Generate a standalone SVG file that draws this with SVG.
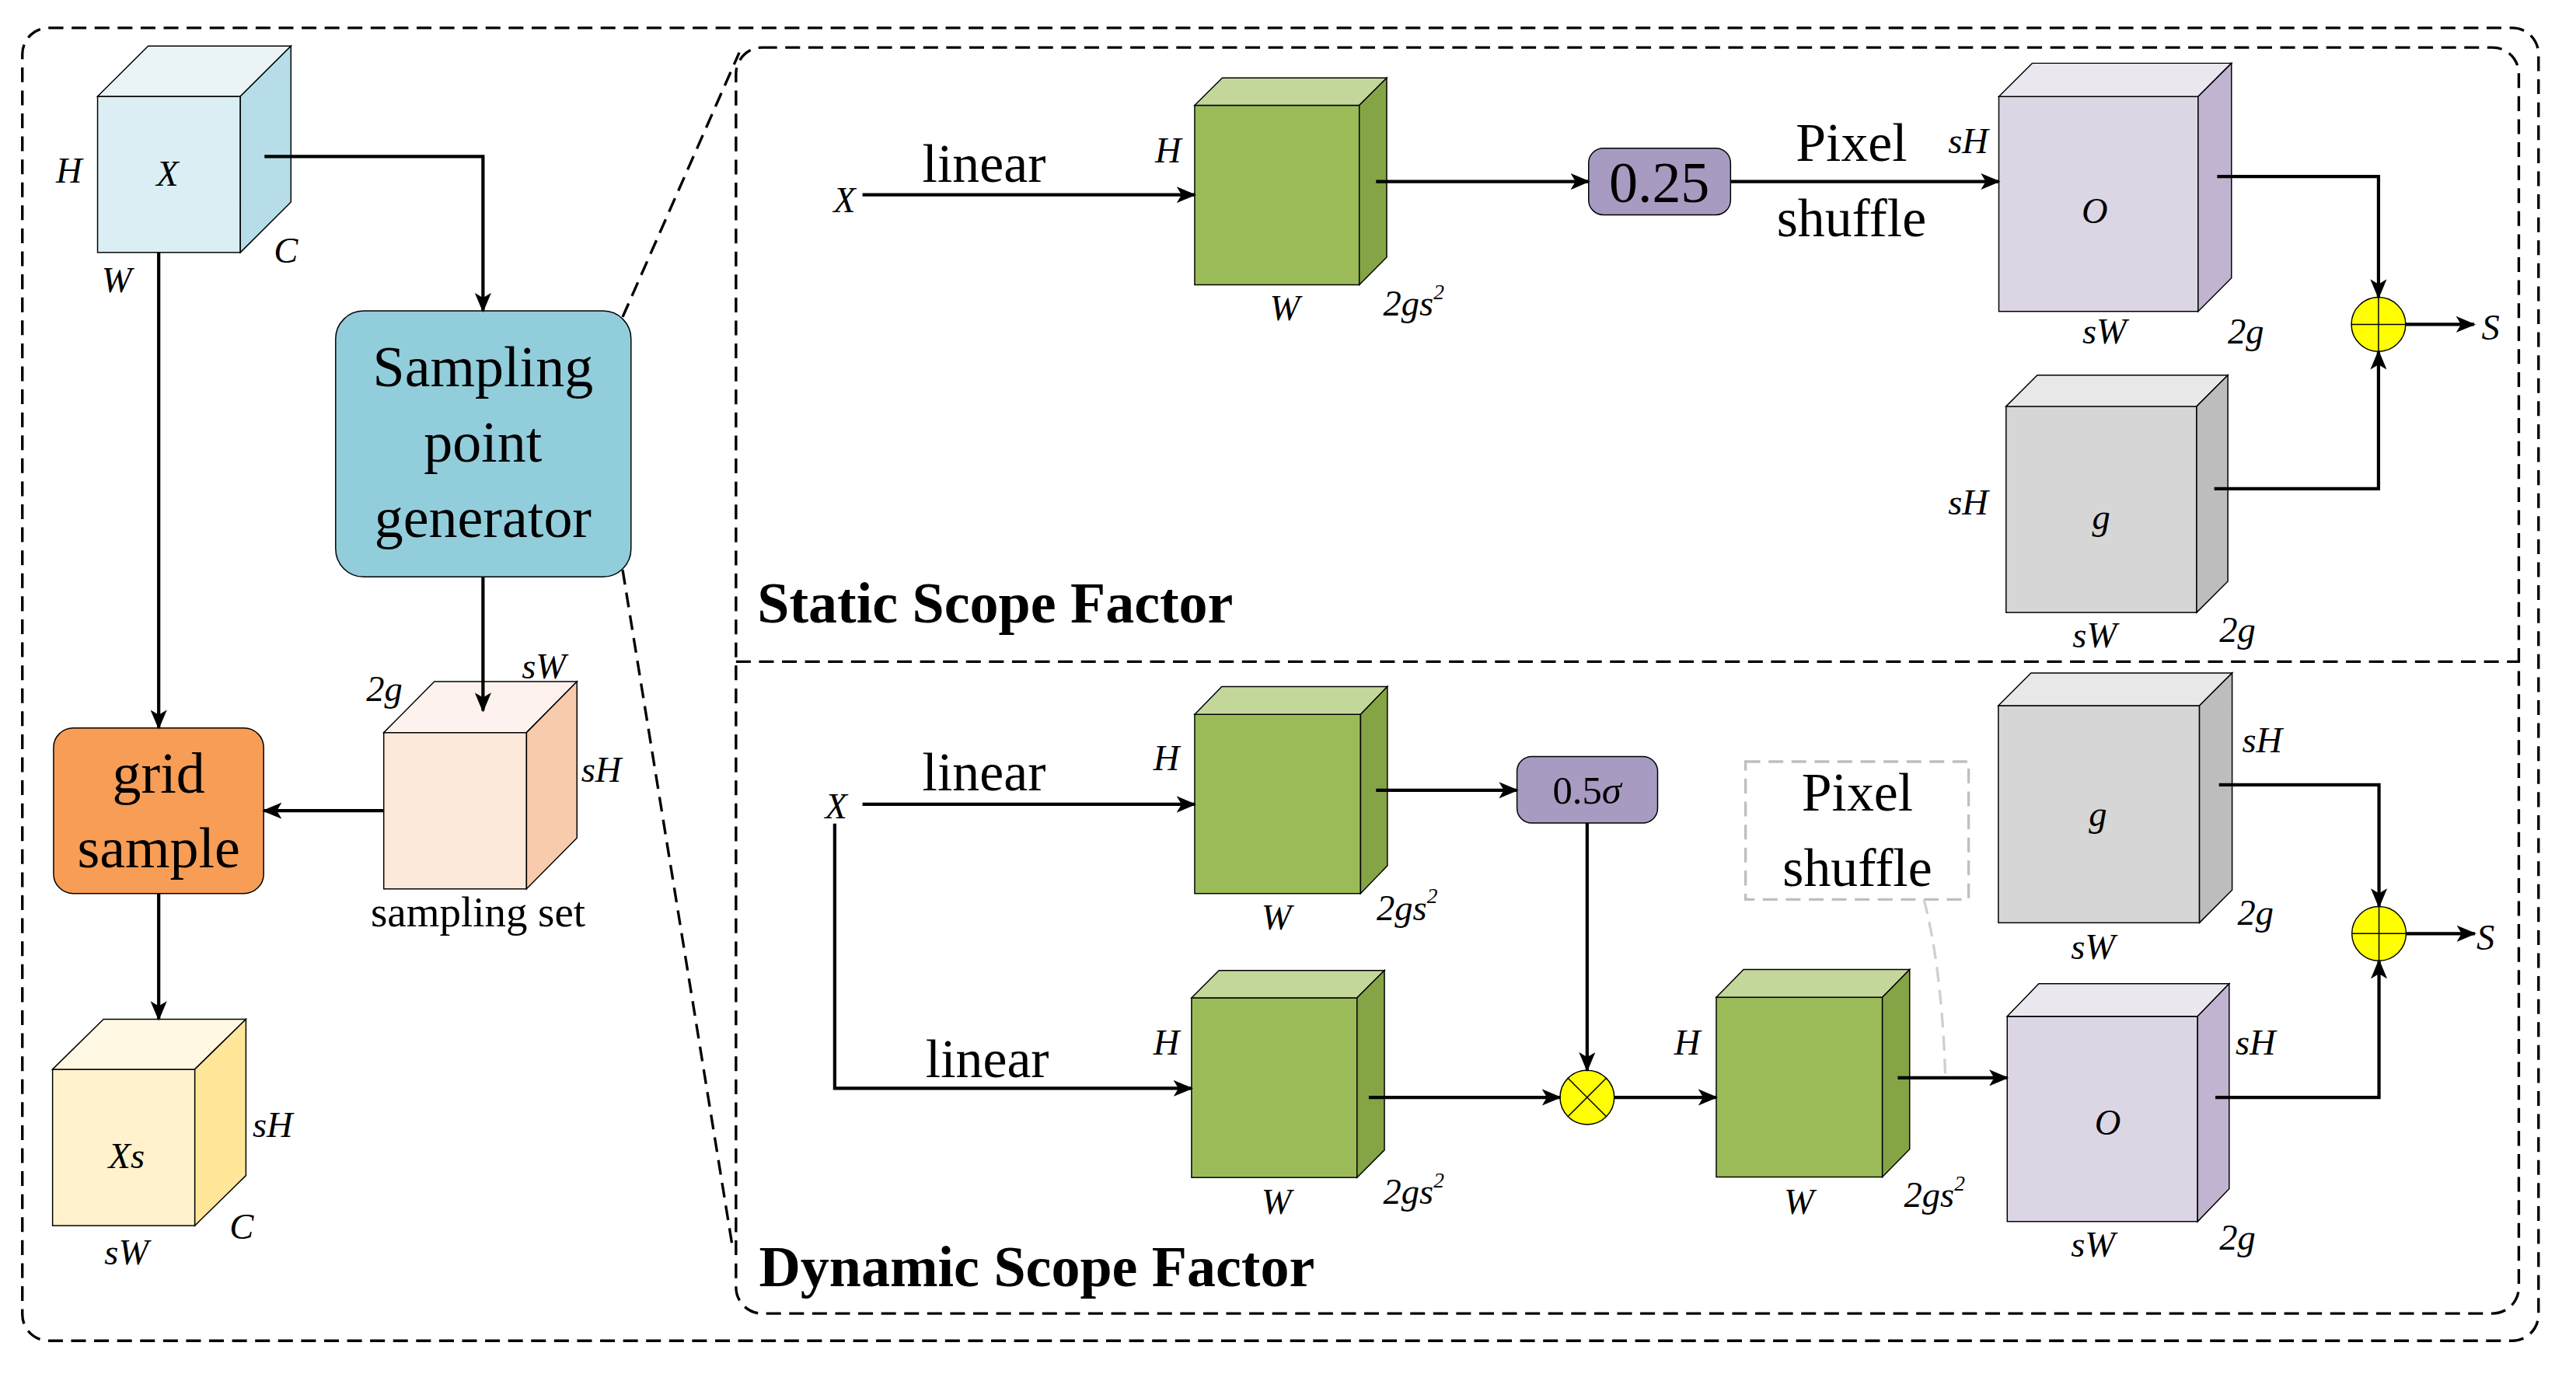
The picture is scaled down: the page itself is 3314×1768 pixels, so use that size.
<svg xmlns="http://www.w3.org/2000/svg" width="3314" height="1768" viewBox="0 0 3314 1768">
<defs>
<marker id="ah" markerWidth="12" markerHeight="10" refX="11" refY="5" orient="auto" markerUnits="userSpaceOnUse"><path d="M0,0 L12,5 L0,10 L3,5 Z" fill="#000"/></marker>
<style>
.t{font-family:"Liberation Serif","Times New Roman",serif;fill:#000}
.i{font-family:"Liberation Serif","Times New Roman",serif;font-style:italic;font-size:22px;fill:#000}
.big{font-size:35px;text-anchor:middle}
.bold{font-weight:bold;font-size:35px}
.c{stroke:#000;stroke-width:2;fill:none}
.ca{stroke:#000;stroke-width:2;fill:none;marker-end:url(#ah)}
.e{stroke:#000;stroke-width:0.7}
.dash{stroke:#000;stroke-width:1.6;stroke-dasharray:9,5;fill:none}
</style>
</defs>
<rect width="3314" height="1768" fill="#fff"/>
<g transform="scale(2.1135)">
<rect x="13.6" y="17" width="1531.6" height="799.3" rx="16" fill="#f2f2f2" class="dash"/>
<rect x="448" y="28.9" width="1085.2" height="770.8" rx="16" fill="#fff2cc" class="dash"/>
<line x1="448" y1="402.8" x2="1533.2" y2="402.8" class="dash"/>
<path d="M379,193 L450,32" class="dash"/>
<path d="M379,347 L446,760" class="dash"/>

<g id="cube-x">
<rect x="59.4" y="58.7" width="86.9" height="95" fill="#daeef3" class="e"/>
<polygon points="59.4,58.7 90.2,28 177.1,28 146.3,58.7" fill="#eaf4f7" class="e"/>
<polygon points="146.3,58.7 177.1,28 177.1,123 146.3,153.7" fill="#b7dde8" class="e"/>
<text class="i" x="102" y="113" text-anchor="middle">X</text>
<text class="i" x="42" y="111" text-anchor="middle">H</text>
<text class="i" x="174" y="160" text-anchor="middle">C</text>
<text class="i" x="71" y="178" text-anchor="middle">W</text>
</g>
<g id="sampling-point-generator">
<rect x="204.3" y="189.3" width="179.8" height="161.9" rx="17" fill="#92cddc" stroke="#000" stroke-width="0.7"/>
<text class="t big" x="294" y="235">Sampling</text>
<text class="t big" x="294" y="281">point</text>
<text class="t big" x="294" y="327">generator</text>
</g>
<g id="grid-sample">
<rect x="32.6" y="443.2" width="127.9" height="100.8" rx="12" fill="#f79d56" stroke="#000" stroke-width="0.7"/>
<text class="t big" x="96.6" y="482.5">grid</text>
<text class="t big" x="96.6" y="528">sample</text>
</g>
<g id="sampling-set">
<rect x="233.6" y="446" width="86.9" height="95.2" fill="#fde9d9" class="e"/>
<polygon points="233.6,446 264.4,415 351.2,415 320.5,446" fill="#fdf2ee" class="e"/>
<polygon points="320.5,446 351.2,415 351.2,510.2 320.5,541.2" fill="#f8cbad" class="e"/>
<text class="i" x="234" y="427" text-anchor="middle" font-style="normal">2<tspan font-style="italic">g</tspan></text>
<text class="i" x="331" y="413" text-anchor="middle">sW</text>
<text class="i" x="366" y="476" text-anchor="middle">sH</text>
<text class="t" x="291" y="564" font-size="26" text-anchor="middle">sampling set</text>
</g>
<g id="cube-xs">
<rect x="32" y="651" width="86.6" height="95.2" fill="#fff2cc" class="e"/>
<polygon points="32,651 63,620.5 149.7,620.5 118.6,651" fill="#fff8e2" class="e"/>
<polygon points="118.6,651 149.7,620.5 149.7,715.7 118.6,746.2" fill="#ffe699" class="e"/>
<text class="i" x="77" y="711" text-anchor="middle">Xs</text>
<text class="i" x="166" y="692" text-anchor="middle">sH</text>
<text class="i" x="147" y="754" text-anchor="middle">C</text>
<text class="i" x="77" y="770" text-anchor="middle">sW</text>
</g>

<!-- static -->
<g id="static-input">
<text class="i" x="514" y="129" text-anchor="middle">X</text>
<text class="t" x="599" y="110.5" font-size="33" text-anchor="middle">linear</text>
</g>
<g id="static-green">
<rect x="727.2" y="64.1" width="100.2" height="109.3" fill="#9bbb59" class="e"/>
<polygon points="727.2,64.1 744,47.4 844.1,47.4 827.4,64.1" fill="#c4d79b" class="e"/>
<polygon points="827.4,64.1 844.1,47.4 844.1,156.6 827.4,173.4" fill="#84a446" class="e"/>
<text class="i" x="711" y="99" text-anchor="middle">H</text>
<text class="i" x="782" y="195" text-anchor="middle">W</text>
<text class="i" x="842" y="192" font-style="normal">2<tspan font-style="italic">gs</tspan><tspan font-size="13" dy="-10">2</tspan></text>
</g>
<g id="static-scale">
<rect x="967" y="90.2" width="86.4" height="40.6" rx="9" fill="#a79bc2" stroke="#000" stroke-width="0.7"/>
<text class="t" x="1010" y="123" font-size="35" text-anchor="middle">0.25</text>
</g>
<g id="static-pixel-shuffle">
<text class="t" x="1127" y="98" font-size="33" text-anchor="middle">Pixel</text>
<text class="t" x="1127" y="144" font-size="33" text-anchor="middle">shuffle</text>
</g>
<g id="static-o">
<rect x="1216.7" y="58.8" width="121.3" height="130.8" fill="#dcd6e4" class="e"/>
<polygon points="1216.7,58.8 1237,38.5 1358.3,38.5 1338,58.8" fill="#eae7ef" class="e"/>
<polygon points="1338,58.8 1358.3,38.5 1358.3,169.3 1338,189.6" fill="#c0b4d0" class="e"/>
<text class="i" x="1275" y="136" text-anchor="middle">O</text>
<text class="i" x="1198" y="93" text-anchor="middle">sH</text>
<text class="i" x="1281" y="209" text-anchor="middle">sW</text>
<text class="i" x="1367" y="209" text-anchor="middle" font-style="normal">2<tspan font-style="italic">g</tspan></text>
</g>
<g id="static-g">
<rect x="1221.1" y="247.4" width="116" height="125.5" fill="#d6d6d6" class="e"/>
<polygon points="1221.1,247.4 1240.1,228.4 1356.1,228.4 1337.1,247.4" fill="#e8e8e8" class="e"/>
<polygon points="1337.1,247.4 1356.1,228.4 1356.1,353.9 1337.1,372.9" fill="#bdbdbd" class="e"/>
<text class="i" x="1279" y="322" text-anchor="middle">g</text>
<text class="i" x="1198" y="313" text-anchor="middle">sH</text>
<text class="i" x="1275" y="394" text-anchor="middle">sW</text>
<text class="i" x="1362" y="391" text-anchor="middle" font-style="normal">2<tspan font-style="italic">g</tspan></text>
</g>
<g id="static-add">
<circle cx="1447.8" cy="197.5" r="16.5" fill="#ffff00" stroke="#000" stroke-width="0.7"/>
<path d="M1431.3,197.5 H1464.3 M1447.8,181 V214" stroke="#000" stroke-width="0.7"/>
<text class="i" x="1516" y="207" text-anchor="middle">S</text>
</g>
<text class="t bold" x="461" y="379">Static Scope Factor</text>

<!-- dynamic -->
<g id="dynamic-input">
<text class="i" x="509" y="498" text-anchor="middle">X</text>
<text class="t" x="599" y="481" font-size="33" text-anchor="middle">linear</text>
<text class="t" x="601" y="655.7" font-size="33" text-anchor="middle">linear</text>
</g>
<g id="dyn-green1">
<rect x="727.2" y="434.9" width="101" height="109.1" fill="#9bbb59" class="e"/>
<polygon points="727.2,434.9 743.7,418 844.5,418 828.2,434.9" fill="#c4d79b" class="e"/>
<polygon points="828.2,434.9 844.5,418 844.5,527.1 828.2,544" fill="#84a446" class="e"/>
<text class="i" x="710" y="469" text-anchor="middle">H</text>
<text class="i" x="777" y="566" text-anchor="middle">W</text>
<text class="i" x="838" y="560" font-style="normal">2<tspan font-style="italic">gs</tspan><tspan font-size="13" dy="-10">2</tspan></text>
</g>
<g id="dyn-sigma">
<rect x="923.4" y="460.6" width="85.6" height="40.5" rx="9" fill="#a79bc2" stroke="#000" stroke-width="0.7"/>
<text class="t" x="966" y="489" font-size="24" text-anchor="middle">0.5<tspan font-style="italic">σ</tspan></text>
</g>
<g id="dyn-green2">
<rect x="725.3" y="607.5" width="100.7" height="109.4" fill="#9bbb59" class="e"/>
<polygon points="725.3,607.5 742,590.8 842.7,590.8 826,607.5" fill="#c4d79b" class="e"/>
<polygon points="826,607.5 842.7,590.8 842.7,700.2 826,716.9" fill="#84a446" class="e"/>
<text class="i" x="710" y="642" text-anchor="middle">H</text>
<text class="i" x="777" y="739" text-anchor="middle">W</text>
<text class="i" x="842" y="733" font-style="normal">2<tspan font-style="italic">gs</tspan><tspan font-size="13" dy="-10">2</tspan></text>
</g>
<g id="dyn-mul">
<circle cx="966.1" cy="668.1" r="16.5" fill="#ffff00" stroke="#000" stroke-width="0.7"/>
<path d="M954.4,656.4 L977.8,679.8 M977.8,656.4 L954.4,679.8" stroke="#000" stroke-width="0.7"/>
</g>
<g id="dyn-green3">
<rect x="1044.7" y="607.2" width="101.1" height="109.4" fill="#9bbb59" class="e"/>
<polygon points="1044.7,607.2 1061.3,590.3 1162.4,590.3 1145.8,607.2" fill="#c4d79b" class="e"/>
<polygon points="1145.8,607.2 1162.4,590.3 1162.4,699.7 1145.8,716.6" fill="#84a446" class="e"/>
<text class="i" x="1027" y="642" text-anchor="middle">H</text>
<text class="i" x="1095" y="739" text-anchor="middle">W</text>
<text class="i" x="1159" y="735" font-style="normal">2<tspan font-style="italic">gs</tspan><tspan font-size="13" dy="-10">2</tspan></text>
</g>
<g id="dyn-pixel-shuffle">
<rect x="1062.5" y="463.7" width="135.8" height="83.9" fill="none" stroke="#bfbfbf" stroke-width="1.6" stroke-dasharray="9,5"/>
<text class="t" x="1130.6" y="493.6" font-size="33" text-anchor="middle">Pixel</text>
<text class="t" x="1130.6" y="539.3" font-size="33" text-anchor="middle">shuffle</text>
<path d="M1171.1,547.6 Q1182,590 1184.1,654.3" fill="none" stroke="#d0d0d0" stroke-width="1.6" stroke-dasharray="9,5"/>
</g>
<g id="dyn-g">
<rect x="1216.4" y="429.6" width="122.4" height="132.2" fill="#d6d6d6" class="e"/>
<polygon points="1216.4,429.6 1236.3,409.7 1358.7,409.7 1338.8,429.6" fill="#e8e8e8" class="e"/>
<polygon points="1338.8,429.6 1358.7,409.7 1358.7,541.9 1338.8,561.8" fill="#bdbdbd" class="e"/>
<text class="i" x="1277" y="503" text-anchor="middle">g</text>
<text class="i" x="1377" y="458" text-anchor="middle">sH</text>
<text class="i" x="1274" y="584" text-anchor="middle">sW</text>
<text class="i" x="1373" y="563" text-anchor="middle" font-style="normal">2<tspan font-style="italic">g</tspan></text>
</g>
<g id="dyn-o">
<rect x="1221.8" y="618.8" width="115.9" height="124.9" fill="#dcd6e4" class="e"/>
<polygon points="1221.8,618.8 1241,598.9 1356.9,598.9 1337.7,618.8" fill="#eae7ef" class="e"/>
<polygon points="1337.7,618.8 1356.9,598.9 1356.9,723.8 1337.7,743.7" fill="#c0b4d0" class="e"/>
<text class="i" x="1283" y="691" text-anchor="middle">O</text>
<text class="i" x="1373" y="642" text-anchor="middle">sH</text>
<text class="i" x="1274" y="765" text-anchor="middle">sW</text>
<text class="i" x="1362" y="761" text-anchor="middle" font-style="normal">2<tspan font-style="italic">g</tspan></text>
</g>
<g id="dyn-add">
<circle cx="1448.1" cy="568.4" r="16.5" fill="#ffff00" stroke="#000" stroke-width="0.7"/>
<path d="M1431.6,568.4 H1464.6 M1448.1,551.9 V584.9" stroke="#000" stroke-width="0.7"/>
<text class="i" x="1513" y="578" text-anchor="middle">S</text>
</g>
<text class="t bold" x="462" y="783">Dynamic Scope Factor</text>

<g id="connectors">
<path d="M161,95.3 H294 V189.3" class="ca"/>
<path d="M96.6,153.7 V443.2" class="ca"/>
<path d="M294,351.2 V432.7" class="ca"/>
<path d="M233.6,493.6 H160.5" class="ca"/>
<path d="M96.6,544 V620.5" class="ca"/>
<path d="M525,118.6 H727.2" class="ca"/>
<path d="M837.6,110.5 H967" class="ca"/>
<path d="M1053.4,110.5 H1216.7" class="ca"/>
<path d="M1349.6,107.5 H1447.8 V181" class="ca"/>
<path d="M1347.8,297.6 H1447.8 V214" class="ca"/>
<path d="M1464.3,197.5 H1506" class="ca"/>
<path d="M525,489.7 H727.2" class="ca"/>
<path d="M508.1,501.4 V662.6 H725.3" class="ca"/>
<path d="M837.6,481.1 H923.4" class="ca"/>
<path d="M966.1,501.1 V651.6" class="ca"/>
<path d="M833.2,668.1 H949.6" class="ca"/>
<path d="M982.6,668.1 H1044.7" class="ca"/>
<path d="M1155.2,656.2 H1221.8" class="ca"/>
<path d="M1350.7,477.8 H1448.1 V551.9" class="ca"/>
<path d="M1348.5,668.1 H1448.1 V584.9" class="ca"/>
<path d="M1464.6,568.4 H1506.4" class="ca"/>
</g>
</g>
</svg>
